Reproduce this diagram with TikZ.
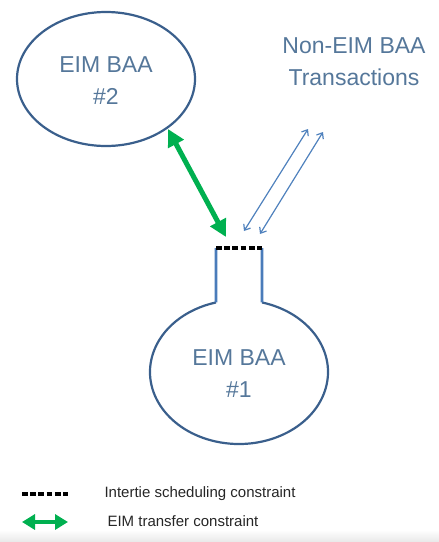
\documentclass[tikz,border=0pt]{standalone}
\usepackage{fontspec}
\setmainfont{Liberation Sans}
\usetikzlibrary{shapes.geometric,arrows.meta,calc}
\definecolor{ellblue}{HTML}{3A5F8C}
\definecolor{neckblue}{HTML}{4A7CBA}
\definecolor{txtblue}{HTML}{55779A}
\definecolor{arrblue}{HTML}{4F81BD}
\definecolor{eimgreen}{HTML}{00B050}
\tikzset{
  ell/.style={draw=ellblue, line width=2.2pt},
  neckline/.style={draw=neckblue, line width=2.6pt},
  bigtxt/.style={text=txtblue, align=center, font=\fontsize{23}{32}\selectfont},
  legtxt/.style={text=black!85, anchor=west, font=\fontsize{15}{17}\selectfont},
  greenarr/.style={draw=eimgreen, line width=5pt, {Triangle[length=17pt,width=17pt]}-{Triangle[length=17pt,width=17pt]}},
  bluearr/.style={draw=arrblue, line width=1.2pt, {Straight Barb[length=5pt,width=8pt]}-{Straight Barb[length=5pt,width=8pt]}},
  intertie/.style={draw=black, line width=3.2pt, dash pattern=on 5.8pt off 2.4pt},
}
\begin{document}
\begin{tikzpicture}[x=1pt,y=-1pt]
\useasboundingbox (0,0) rectangle (439,542);
\shade[top color=white, bottom color=black!9] (0,530) rectangle (439,542);
% EIM BAA #2
\node[ellipse, ell, minimum width=178pt, minimum height=134pt, inner sep=0pt] (e2) at (106,79) {};
\node[bigtxt] (t2) at (106,81) {EIM BAA\\\#2};
% Non-EIM label
\node[bigtxt] (tn) at (354,62) {Non-EIM BAA\\Transactions};
% EIM BAA #1 with neck
\node[ellipse, minimum width=178pt, minimum height=144pt, inner sep=0pt] (e1) at (239,372) {};
\node[bigtxt] (t1) at (239,374) {EIM BAA\\\#1};
\coordinate (nr) at ($(e1.center)+(-75:89 and 72)$);
\coordinate (nl) at ($(e1.center)+(-105:89 and 72)$);
\coordinate (ntl) at (216,248);
\coordinate (ntr) at (262,248);
\draw[ell] (nr) arc[start angle=-75, end angle=255, x radius=89, y radius=72];
\draw[neckline] (nl) -- (ntl);
\draw[neckline] (nr) -- (ntr);
\draw[intertie] (ntl) -- (ntr);
% green EIM transfer arrow
\coordinate (g1) at (168,129);
\coordinate (g2) at (226,237);
\draw[greenarr] (g1) -- (g2);
% blue arrows
\coordinate (b1s) at (244,231);
\coordinate (b1e) at (308,129);
\coordinate (b2s) at (260,234);
\coordinate (b2e) at (323,132);
\draw[bluearr] (b1s) -- (b1e);
\draw[bluearr] (b2s) -- (b2e);
% legend
\coordinate (l1a) at (22,494);
\coordinate (l1b) at (68,494);
\draw[intertie] (l1a) -- (l1b);
\node[legtxt] (lt1) at (101,494) {Intertie scheduling constraint};
\coordinate (l2a) at (22,522);
\coordinate (l2b) at (68,522);
\draw[draw=eimgreen, line width=4.5pt, {Triangle[length=13pt,width=15pt]}-{Triangle[length=13pt,width=15pt]}] (l2a) -- (l2b);
\node[legtxt] (lt2) at (104,521) {EIM transfer constraint};
\end{tikzpicture}
\end{document}
